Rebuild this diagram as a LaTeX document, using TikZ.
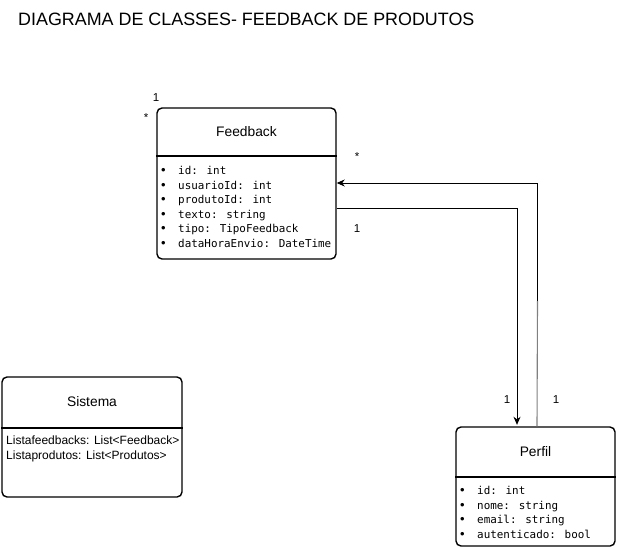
\documentclass[tikz,border=0pt]{standalone}
\usepackage{fontspec}
\setmainfont{Liberation Sans}
\newfontfamily\attrfont{DejaVu Sans Mono}
\usepackage{tikz}
\usetikzlibrary{arrows.meta}
\tikzset{>={Stealth[length=8pt,width=7pt,inset=2.5pt]}}
\tikzset{
    classbox/.style={draw,line width=1.4pt,rounded corners=5pt,inner sep=0pt},
    classname/.style={font=\fontsize{13.8}{16}\selectfont},
    mult/.style={font=\fontsize{11.5}{13}\selectfont,inner sep=0pt}
}
% one bullet line of a class body
\newcommand{\attr}[3]{
    \node[anchor=base west,inner sep=0pt] at ({#1},{#2}) {\fontsize{13}{14}\selectfont\textbullet};
    \node[anchor=base west,inner sep=0pt,font=\attrfont\fontsize{10.9}{13}\selectfont] at ({#1+17},{#2}) {#3};
}

\begin{document}
\begin{tikzpicture}[x=1pt,y=-1pt]
    \useasboundingbox (0,0) rectangle (617,548);
    \node[anchor=base west,inner sep=0pt,font=\fontsize{17.9}{20}\selectfont] (title) at (18,25.5) {DIAGRAMA DE CLASSES- FEEDBACK DE PRODUTOS};

    % Feedback
    \node[classbox,minimum width=179,minimum height=151] (feedback) at (246.5,183.5) {};
    \draw[line width=1.4pt] (feedback.west |- 0,156) -- (feedback.east |- 0,156);
    \node[classname] (feedbackname) at (246.5,132) {Feedback};
    \foreach \t [count=\i] in {id: int,usuarioId: int,produtoId: int,texto: string,tipo: TipoFeedback,dataHoraEnvio: DateTime}{
        \attr{161}{174.5+14.5*(\i-1)}{\t}
    }

    % Sistema
    \node[classbox,minimum width=180,minimum height=120] (sistema) at (92,437) {};
    \draw[line width=1.4pt] (sistema.west |- 0,428) -- (sistema.east |- 0,428);
    \node[classname] (sistemaname) at (92,402) {Sistema};
    \node[anchor=base west,inner sep=0pt,font=\fontsize{12}{13}\selectfont] (sistemalist1) at (6,444) {Listafeedbacks: List<Feedback>};
    \node[anchor=base west,inner sep=0pt,font=\fontsize{12}{13}\selectfont] (sistemalist2) at (6,459) {Listaprodutos: List<Produtos>};

    % Perfil
    \node[classbox,minimum width=159,minimum height=119] (perfil) at (535.5,486.5) {};
    \draw[line width=1.4pt] (perfil.west |- 0,477) -- (perfil.east |- 0,477);
    \node[classname] (perfilname) at (535.5,452) {Perfil};
    \foreach \t [count=\i] in {id: int,nome: string,email: string,autenticado: bool}{
        \attr{460}{494.5+14.5*(\i-1)}{\t}
    }

    % associations
    \draw[->,line width=0.9pt] ([yshift=-24.5pt]feedback.east) -| ([xshift=-18.5pt,yshift=1.5pt]perfil.north);
    \coordinate (bend) at (537.5,301);
    \draw[gray,line width=1.1pt] ([xshift=1.5pt]perfil.north) -- (bend);
    \draw[->,line width=0.9pt] (bend) |- ([yshift=0.5pt]feedback.east);

    % multiplicities
    \node[mult] (m1) at (156,98) {1};
    \node[mult] (m2) at (146,118) {*};
    \node[mult] (m3) at (357,157) {*};
    \node[mult] (m4) at (357,229) {1};
    \node[mult] (m5) at (507,400) {1};
    \node[mult] (m6) at (556,400) {1};
\end{tikzpicture}
\end{document}
